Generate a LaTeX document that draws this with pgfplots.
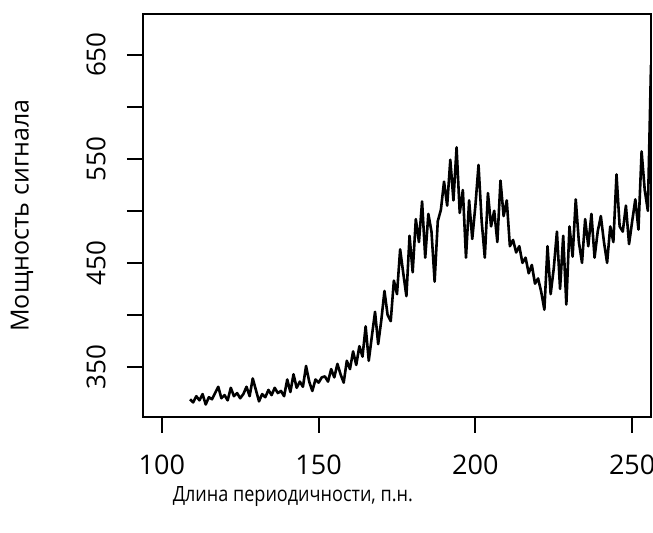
\documentclass[border=0pt]{standalone}
\usepackage{fontspec}
\setmainfont{Open Sans}
\usepackage{pgfplots}
\usepackage{pgfplotstable}
\pgfplotsset{compat=1.18}

% signal power against repeat length (bp)
\pgfplotstableread{
x y
109 319
110 316
111 322
112 318
113 324
114 314
115 321
116 319
117 325
118 331
119 320
120 323
121 318
122 330
123 322
124 325
125 320
126 324
127 331
128 322
129 339
130 328
131 317
132 324
133 321
134 328
135 323
136 330
137 325
138 327
139 322
140 338
141 326
142 343
143 330
144 336
145 331
146 351
147 336
148 327
149 338
150 335
151 340
152 341
153 336
154 348
155 340
156 353
157 343
158 335
159 356
160 348
161 365
162 352
163 370
164 360
165 389
166 356
167 380
168 403
169 372
170 395
171 423
172 400
173 394
174 433
175 420
176 463
177 440
178 418
179 476
180 441
181 492
182 470
183 509
184 455
185 497
186 480
187 432
188 490
189 501
190 528
191 505
192 549
193 510
194 561
195 498
196 520
197 455
198 510
199 473
200 505
201 544
202 490
203 455
204 517
205 485
206 500
207 470
208 529
209 495
210 510
211 466
212 472
213 460
214 466
215 450
216 455
217 440
218 448
219 430
220 435
221 422
222 405
223 466
224 420
225 445
226 480
227 425
228 476
229 410
230 485
231 456
232 511
233 470
234 450
235 492
236 466
237 497
238 455
239 480
240 495
241 470
242 450
243 485
244 470
245 535
246 485
247 480
248 505
249 468
250 490
251 511
252 482
253 557
254 520
255 500
256 640
}\signal

\begin{document}
\begin{tikzpicture}
\useasboundingbox (-71.5pt,-58pt) rectangle (255pt,208.5pt);
\begin{axis}[
    at={(0,0)}, anchor=south west,
    scale only axis,
    width=254pt, height=201.5pt,
    xmin=94, xmax=256,
    ymin=302, ymax=689,
    xtick={100,150,200,250},
    ytick={350,400,450,500,550,600,650},
    yticklabels={350,{},450,{},550,{},650},
    xtick pos=bottom, ytick pos=left,
    tick align=outside,
    major tick length=8pt,
    every tick/.style={black, line width=1pt},
    axis line style={line width=1pt},
    /pgf/number format/assume math mode=true,
    xticklabel style={font=\fontsize{13.5}{16}\selectfont, anchor=center, yshift=-16pt},
    yticklabel style={font=\fontsize{13}{15}\selectfont, rotate=90, anchor=center, yshift=15.5pt},
    xlabel={\scalebox{0.86}[1]{Длина периодичности, п.н.}},
    ylabel={Мощность сигнала},
    xlabel style={font=\fontsize{10.5}{12}\selectfont, at={(axis description cs:0.295,0)}, anchor=center, yshift=-40pt},
    ylabel style={font=\fontsize{12.5}{15}\selectfont, at={(axis description cs:0,0.5)}, anchor=center, yshift=60.5pt},
]
\addplot[black, line width=1.3pt, line join=round] table[x=x, y=y] {\signal};
\end{axis}
\end{tikzpicture}
\end{document}
